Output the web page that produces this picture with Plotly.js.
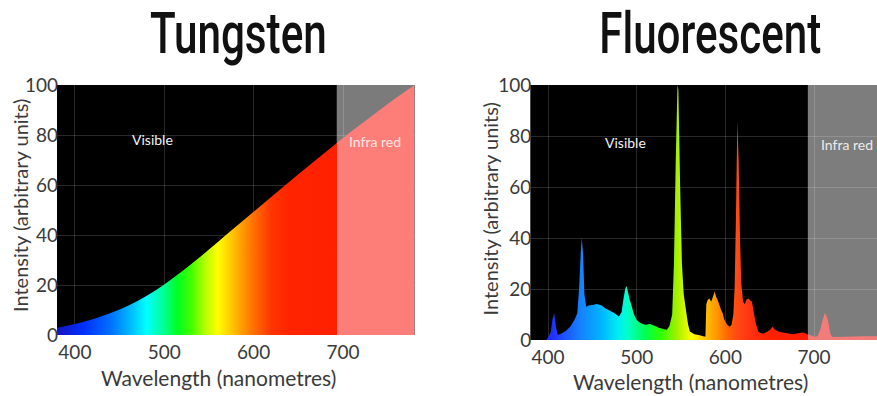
<!DOCTYPE html>
<html>
<head>
<meta charset="utf-8">
<script src="https://cdn.plot.ly/plotly-3.0.1.min.js"></script>
<style>
  html, body { margin: 0; padding: 0; background: #ffffff; }
  #chart { width: 877px; height: 396px; }
</style>
</head>
<body>
<div id="chart"></div>
<script>
// ---------- data ----------
const chartTitles = ["Tungsten", "Fluorescent"];
const xTitle = "Wavelength (nanometres)";
const yTitle = "Intensity (arbitrary units)";
const regionLabels = ["Visible", "Infra red"];
const xTicks = [400, 500, 600, 700];
const yTicks = [0, 20, 40, 60, 80, 100];
const infraRedStart = 693;

// Tungsten (incandescent) spectrum
const tungstenWl = [380, 390, 400, 410, 420, 430, 440, 450, 460, 470, 480, 490, 500, 510, 520, 530, 540, 550, 560, 570, 580,
                    590, 600, 610, 620, 630, 640, 650, 660, 670, 680, 690, 700, 710, 720, 730, 740, 750, 760, 770, 780];
const tungstenVal = [2.9, 3.6, 4.4, 5.3, 6.3, 7.45, 8.75, 10.2, 11.8, 13.6, 15.6, 17.8, 20.2, 22.75, 25.45, 28.25, 31.15, 34.15, 37.2, 40.25, 43.3,
                     46.3, 49.3, 52.3, 55.3, 58.3, 61.3, 64.25, 67.2, 70.1, 73.0, 75.9, 78.8, 81.6, 84.3, 87.0, 89.7, 92.4, 95.0, 97.5, 100];

// Fluorescent spectrum
const fluoWl = [398, 400, 403, 405, 407, 409, 411, 415, 420, 425, 430, 433, 435, 437, 438, 439.5, 441, 443, 446, 450,
                455, 460, 465, 470, 475, 480, 483, 485, 487, 488.5, 490, 492, 494, 497, 500, 505, 510, 515, 520, 525,
                530, 534, 537, 540, 542, 544, 546, 547, 549, 551, 553, 555, 558, 560, 565, 570, 575, 577.5, 578.5, 580,
                582, 584, 586, 588, 589.5, 591, 593, 595, 597, 599, 602, 605, 607, 609, 610.5, 612, 613.5, 615, 616.5, 618,
                620, 622, 624, 626, 628, 630, 632, 634, 637, 640, 643, 646, 650, 653, 656, 660, 665, 670, 676, 682,
                688, 692, 696, 700, 704, 707, 709, 712, 714, 716, 718, 720, 725, 735, 745, 755, 771];
const fluoVal = [0, 1, 3, 8, 10.5, 5, 2, 2.5, 3.5, 5.2, 8, 10.5, 20, 35, 40, 34, 18, 13, 13.5, 13.7,
                 14.1, 13.6, 12.4, 11.5, 10.5, 9.2, 11, 16, 20, 21.3, 19, 16, 13.7, 10, 7.8, 6.5, 6, 6.3, 5.6, 4.8,
                 4.3, 4, 5.5, 10, 30, 70, 100, 98, 60, 30, 18, 13, 6, 3.3, 2.3, 2, 1.5, 1.3, 14, 15.7,
                 16.3, 15, 17, 19, 17, 16, 14, 12, 10.5, 7.8, 6, 5.2, 6, 10, 21, 50, 86, 70, 40, 22,
                 15, 14, 16, 16.3, 15.5, 15, 11, 7, 3.3, 2.6, 2.5, 3, 3.8, 5.2, 4, 3.3, 2.9, 2.6, 2.3, 2.6,
                 2.9, 2.4, 2, 1.3, 1.5, 4, 7, 10.5, 9.5, 7.2, 3, 1.3, 1.2, 1.3, 1.4, 1.5, 1.5];

// ---------- styling helpers ----------
const gradStart = 380, gradStop = 780;
const tungStops = [[380, '#1414c0'], [410, '#0030ff'], [440, '#0070ff'], [465, '#00c4ff'], [480, '#00ffff'],
                   [500, '#00ff90'], [515, '#00ff20'], [530, '#40ff00'], [545, '#b0ff00'], [560, '#ffff00'],
                   [575, '#ffc800'], [590, '#ff9000'], [605, '#ff6000'], [620, '#ff3400'], [640, '#ff2400'],
                   [693, '#ff2000'], [693, '#fd7e79'], [780, '#fd7e79']];
const fluoStops = [[380, '#1a1aff'], [405, '#2030ff'], [436, '#1680ff'], [460, '#00b4ff'], [480, '#00f0f0'],
                   [490, '#00ffc8'], [510, '#00ff50'], [528, '#30ff00'], [546, '#a8f000'], [562, '#ffff00'],
                   [578, '#ffc000'], [592, '#ff9000'], [602, '#ff6800'], [612, '#ff4c14'], [630, '#ff3010'],
                   [650, '#ff2200'], [693, '#ff1c08'], [693, '#f47c78'], [780, '#f47c78']];
function toScale(stops) {
  return stops.map(s => [(s[0] - gradStart) / (gradStop - gradStart), s[1]]);
}

const data = [
  {
    x: tungstenWl, y: tungstenVal, xaxis: 'x', yaxis: 'y',
    type: 'scatter', mode: 'none', fill: 'tozeroy',
    fillgradient: { type: 'horizontal', start: gradStart, stop: gradStop, colorscale: toScale(tungStops) },
    hoverinfo: 'skip', showlegend: false
  },
  {
    x: fluoWl, y: fluoVal, xaxis: 'x2', yaxis: 'y2',
    type: 'scatter', mode: 'none', fill: 'tozeroy',
    fillgradient: { type: 'horizontal', start: gradStart, stop: gradStop, colorscale: toScale(fluoStops) },
    hoverinfo: 'skip', showlegend: false
  }
];

const tickFont = { family: 'Lato, "Noto Sans", sans-serif', size: 19, color: '#3a3a3a' };
const gridCol = 'rgba(255,255,255,0.16)';
function xAxis(domain, range, anchor) {
  return {
    domain: domain, range: range, anchor: anchor, tickvals: xTicks, ticktext: xTicks.map(String),
    showgrid: true, gridcolor: gridCol, gridwidth: 1, zeroline: false, showline: false,
    ticks: '', tickfont: tickFont, ticklabelstandoff: 4, fixedrange: true
  };
}
function yAxis(domain, anchor) {
  return {
    domain: domain, range: [0, 100], anchor: anchor, tickvals: yTicks, ticktext: yTicks.map(String),
    showgrid: true, gridcolor: gridCol, gridwidth: 1, zeroline: false, showline: false,
    ticks: '', tickfont: tickFont, ticklabelstandoff: -2, fixedrange: true
  };
}

const titleFont = { family: 'Roboto, "DejaVu Sans Condensed", sans-serif', size: 57, color: '#111111', weight: 500 };
const axTitleFontX = { family: 'Lato, "Noto Sans", sans-serif', size: 21, color: '#3a3a3a' };
const axTitleFontY = { family: 'Lato, "Noto Sans", sans-serif', size: 20, color: '#3a3a3a' };
const labelFont = { family: 'Lato, "Noto Sans", sans-serif', size: 14, color: '#f2f2f2' };

const layout = {
  width: 877, height: 396,
  margin: { l: 0, r: 0, t: 0, b: 0 },
  paper_bgcolor: '#ffffff', plot_bgcolor: '#000000',
  showlegend: false,
  xaxis: xAxis([57 / 877, 414.5 / 877], [380, 780], 'y'),
  yaxis: yAxis([61 / 396, 311 / 396], 'x'),
  xaxis2: xAxis([530.3 / 877, 1], [380, 771], 'y2'),
  yaxis2: yAxis([56 / 396, 311 / 396], 'x2'),
  shapes: [
    { type: 'rect', xref: 'x', yref: 'y', x0: infraRedStart, x1: 780, y0: 0, y1: 100, layer: 'below',
      fillcolor: '#7b7b7b', line: { width: 0 } },
    { type: 'rect', xref: 'x2', yref: 'y2', x0: infraRedStart, x1: 771, y0: 0, y1: 100, layer: 'below',
      fillcolor: '#7d7d7d', line: { width: 0 } }
  ],
  annotations: [
    { text: chartTitles[0], xref: 'paper', yref: 'paper', x: 238 / 877, y: (396 - 33) / 396,
      xanchor: 'center', yanchor: 'middle', showarrow: false, font: titleFont },
    { text: chartTitles[1], xref: 'paper', yref: 'paper', x: 709.5 / 877, y: (396 - 33) / 396,
      xanchor: 'center', yanchor: 'middle', showarrow: false, font: titleFont },
    { text: xTitle, xref: 'paper', yref: 'paper', x: 218 / 877, y: (396 - 377) / 396,
      xanchor: 'center', yanchor: 'middle', showarrow: false, font: axTitleFontX },
    { text: xTitle, xref: 'paper', yref: 'paper', x: 690 / 877, y: (396 - 381.5) / 396,
      xanchor: 'center', yanchor: 'middle', showarrow: false, font: axTitleFontX },
    { text: yTitle, xref: 'paper', yref: 'paper', x: 20 / 877, y: (396 - 206) / 396, textangle: -90,
      xanchor: 'center', yanchor: 'middle', showarrow: false, font: axTitleFontY },
    { text: yTitle, xref: 'paper', yref: 'paper', x: 490 / 877, y: (396 - 209.5) / 396, textangle: -90,
      xanchor: 'center', yanchor: 'middle', showarrow: false, font: axTitleFontY },
    { text: regionLabels[0], xref: 'x', yref: 'y', x: 487, y: 78.4, showarrow: false, font: labelFont },
    { text: regionLabels[1], xref: 'x', yref: 'y', x: 736, y: 77.6, showarrow: false,
      font: Object.assign({}, labelFont, { color: '#ffe6e4' }) },
    { text: regionLabels[0], xref: 'x2', yref: 'y2', x: 487, y: 77.3, showarrow: false, font: labelFont },
    { text: regionLabels[1], xref: 'x2', yref: 'y2', x: 737, y: 76.5, showarrow: false,
      font: Object.assign({}, labelFont, { color: '#ececec' }) }
  ]
};

// condensed look for the big titles: squeeze horizontally about their centre
const titleWidths = { 'Tungsten': 177, 'Fluorescent': 222 };
Plotly.newPlot('chart', data, layout, { staticPlot: true, displayModeBar: false }).then(function (gd) {
  gd.querySelectorAll('g.annotation').forEach(function (a) {
    const t = a.querySelector('text.annotation-text');
    if (!t) return;
    const w = titleWidths[t.textContent];
    if (!w) return;
    const bb = t.getBBox();
    const s = w / bb.width;
    const cx = bb.x + bb.width / 2;
    t.setAttribute('transform', 'translate(' + cx + ',0) scale(' + s + ',1) translate(' + (-cx) + ',0)');
    const bg = a.querySelector('rect.bg');
    if (bg) {
      bg.setAttribute('x', cx - w / 2);
      bg.setAttribute('width', w);
    }
  });
});
</script>
</body>
</html>
